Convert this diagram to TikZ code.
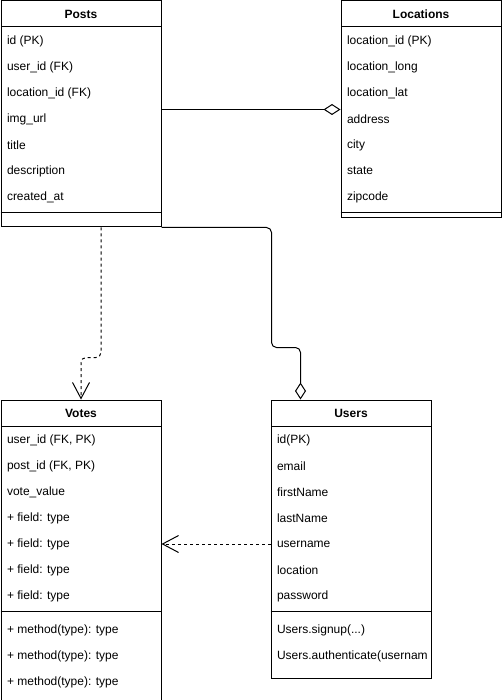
\documentclass[tikz,border=0pt]{standalone}
\usepackage{fontspec}
\setmainfont{Liberation Sans}
\usetikzlibrary{arrows.meta, positioning}

\begin{document}
\begin{tikzpicture}[
  x=1pt, y=-1pt, line width=1pt,
  font=\fontsize{12}{14}\selectfont,
  tbl/.style={draw, anchor=north west, minimum width=160pt, inner sep=0pt},
  hdr/.style={draw, minimum width=160pt, minimum height=26pt, inner sep=0pt,
    font=\fontsize{12}{14}\selectfont\bfseries},
  fld/.style={anchor=west, inner sep=0pt},
  agg/.style={-{Diamond[open, length=17pt, width=11pt]}},
  dep/.style={dash pattern=on 3pt off 3pt, -{Straight Barb[length=16pt, width=17pt]}}
]
\useasboundingbox (0,0) rectangle (501,700);

% tables
\node[tbl, minimum height=226pt] (posts) at (0.5,0.5) {};
\node[tbl, minimum height=217pt] (locations) at (340.5,0.5) {};
\node[tbl, minimum height=300pt] (votes) at (0.5,399.5) {};
\node[tbl, minimum height=278pt] (users) at (270.5,399.5) {};

\node[hdr, below=0pt of posts.north] (posts-h) {Posts};
\node[hdr, below=0pt of locations.north] (locations-h) {Locations};
\node[hdr, below=0pt of votes.north] (votes-h) {Votes};
\node[hdr, below=0pt of users.north] (users-h) {Users};

\foreach \t in {posts, locations, votes, users}
  \draw ([yshift=-212pt]\t.north west) -- ([yshift=-212pt]\t.north east);

% fields
\foreach \f [count=\i from 0] in {id (PK), user\_id (FK), location\_id (FK),
    img\_url, title, description, created\_at}
  \node[fld] (posts-\i) at ([shift={(6,40.5+26*\i)}]posts.north west) {\f};
\foreach \f [count=\i from 0] in {location\_id (PK), location\_long, location\_lat,
    address, city, state, zipcode}
  \node[fld] (locations-\i) at ([shift={(6,40.5+26*\i)}]locations.north west) {\f};
\foreach \f [count=\i from 0] in {{user\_id (FK, PK)}, {post\_id (FK, PK)}, vote\_value,
    + field: type, + field: type, + field: type, + field: type}
  \node[fld] (votes-\i) at ([shift={(6,40.5+26*\i)}]votes.north west) {\f};
\foreach \f [count=\i from 0] in {id(PK), email, firstName, lastName,
    username, location, password}
  \node[fld] (users-\i) at ([shift={(6,40.5+26*\i)}]users.north west) {\f};

% methods
\foreach \f [count=\i from 0] in {+ method(type): type, + method(type): type,
    + method(type): type}
  \node[fld] (votes-m\i) at ([shift={(6,230.5+26*\i)}]votes.north west) {\f};
\node[fld] (users-m0) at ([shift={(6,230.5)}]users.north west) {Users.signup(...)};
\node[fld] (users-m1) at ([shift={(6,256.5)}]users.north west) {Users.authenticate(usernam};

% relations
\draw[agg] (locations.west -| posts.east) -- (locations.west);
\draw[agg, rounded corners=5pt] (posts.south east) -- ++(110,0) -- ++(0,120)
  -| ([xshift=30pt]users.north west);
\draw[dep, rounded corners=5pt] ([xshift=20pt]posts.south) -- ++(0,130) -| (votes.north);
\draw[dep] (users-4 -| users.west) -- (users-4 -| votes.east);
\end{tikzpicture}
\end{document}
